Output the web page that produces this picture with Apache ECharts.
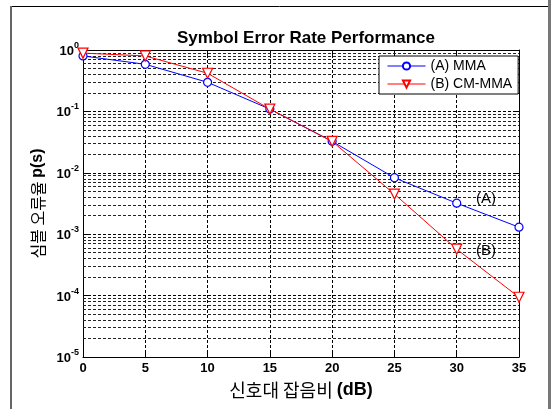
<!DOCTYPE html>
<html><head><meta charset="utf-8">
<script src="https://cdn.jsdelivr.net/npm/echarts@6/dist/echarts.min.js"></script>
<style>html,body{margin:0;padding:0;background:#fff}#c{width:551px;height:409px}</style>
</head><body><div id="c"></div>
<script>
const snr = [0, 5, 10, 15, 20, 25, 30, 35];
const serMMA = [0.80, 0.585, 0.298, 0.109, 0.0325, 0.0083, 0.0032, 0.0013];
const serCMMMA = [0.89, 0.80, 0.418, 0.109, 0.0325, 0.0045, 0.00057, 0.000094];
const seriesNames = ['(A) MMA', '(B) CM-MMA'];
const annotations = ['(A)', '(B)'];
const title = 'Symbol Error Rate Performance';
const decades = [-5, -4, -3, -2, -1];
const minorMultipliers = [2, 3, 4, 5, 6, 7, 8, 9];

// minor grid positions, expressed as log10 values on a hidden linear helper axis
const minorLines = [];
decades.forEach(d => minorMultipliers.forEach(k => minorLines.push({ yAxis: d + Math.log10(k) })));

const FONT = '"Liberation Sans", Arial, sans-serif';
const KFONT = '"Noto Sans CJK KR", "Liberation Sans", sans-serif';
const dash = [3, 2];

const chart = echarts.init(document.getElementById('c'), null, { renderer: 'canvas' });
chart.setOption({
  animation: false,
  backgroundColor: '#fff',
  title: { text: title, left: 172, top: 25, textStyle: { fontFamily: FONT, fontSize: 17, fontWeight: 'bold', color: '#000' } },
  grid: { left: 83, right: 32, top: 50, bottom: 52, show: false },
  legend: {
    orient: 'vertical', left: 379, top: 56, width: 135, z: 20,
    backgroundColor: '#fff', borderColor: '#000', borderWidth: 1,
    padding: [3, 6, 3, 8], itemWidth: 38, itemHeight: 9, itemGap: 4,
    lineStyle: { width: 1 },
    textStyle: { fontFamily: FONT, fontSize: 14, color: '#000' },
    data: seriesNames
  },
  xAxis: [{
    type: 'value', min: 0, max: 35, interval: 5,
    axisLine: { show: true, onZero: false, lineStyle: { color: '#000' } },
    axisTick: { show: true, inside: true, length: 5, lineStyle: { color: '#000' } },
    axisLabel: { fontFamily: FONT, fontSize: 13, fontWeight: 'bold', color: '#000', margin: 5 },
    splitLine: { show: true, lineStyle: { color: '#000', type: dash, width: 1 } },
    name: '{k|신호대 잡음비 }{b|(dB)}', nameLocation: 'middle', nameGap: 24,
    nameTextStyle: { rich: { k: { fontFamily: KFONT, fontSize: 18, color: '#000' }, b: { fontFamily: FONT, fontSize: 18, fontWeight: 'bold', color: '#000' } } }
  }, {
    type: 'value', min: 0, max: 35, interval: 5, position: 'top',
    axisLine: { show: true, onZero: false, lineStyle: { color: '#000' } },
    axisTick: { show: true, inside: true, length: 5, lineStyle: { color: '#000' } },
    axisLabel: { show: false }, splitLine: { show: false }
  }],
  yAxis: [{
    type: 'log', logBase: 10, min: 1e-5, max: 1, splitNumber: 5,
    axisLine: { show: true, onZero: false, lineStyle: { color: '#000' } },
    axisTick: { show: true, inside: true, length: 5, lineStyle: { color: '#000' } },
    axisLabel: {
      margin: 4, color: '#000',
      formatter: v => '{b|10}{s|' + Math.round(Math.log10(v)) + '}',
      rich: { b: { fontFamily: FONT, fontSize: 13, fontWeight: 'bold', color: '#000', padding: [3, 0, 0, 0] }, s: { fontFamily: FONT, fontSize: 9, fontWeight: 'bold', color: '#000', padding: [0, 0, 9, 0] } }
    },
    splitLine: { show: true, lineStyle: { color: '#000', type: dash, width: 1 } },
    name: '{k|심볼 오류율 }{b|p(s)}', nameLocation: 'middle', nameGap: 36, nameRotate: 90,
    nameTextStyle: { rich: { k: { fontFamily: KFONT, fontSize: 16, color: '#000' }, b: { fontFamily: FONT, fontSize: 16, fontWeight: 'bold', color: '#000' } } }
  }, {
    type: 'log', logBase: 10, min: 1e-5, max: 1, splitNumber: 5, position: 'right',
    axisLine: { show: true, onZero: false, lineStyle: { color: '#000' } },
    axisTick: { show: true, inside: true, length: 5, lineStyle: { color: '#000' } },
    axisLabel: { show: false }, splitLine: { show: false }
  }, {
    type: 'value', min: -5, max: 0, show: false, position: 'right', offset: 0,
    splitLine: { show: false }
  }],
  series: [{
    name: 'minor-grid', type: 'line', yAxisIndex: 2,
    data: [[0, -5]], symbol: 'none', lineStyle: { opacity: 0 }, silent: true, z: 1,
    markLine: { silent: true, symbol: 'none', label: { show: false }, animation: false, precision: 6,
      lineStyle: { color: '#222', type: dash, width: 1 }, data: minorLines }
  }, {
    name: seriesNames[0], type: 'line',
    data: snr.map((x, i) => [x, serMMA[i]]),
    symbol: 'circle', symbolSize: 8,
    lineStyle: { color: '#0000ff', width: 1 },
    itemStyle: { color: '#fff', borderColor: '#0000ff', borderWidth: 1.2 },
    z: 5
  }, {
    name: seriesNames[1], type: 'line',
    data: snr.map((x, i) => [x, serCMMMA[i]]),
    symbol: 'triangle', symbolRotate: 180, symbolSize: 10,
    lineStyle: { color: '#ff0000', width: 1 },
    itemStyle: { color: '#fff', borderColor: '#ff0000', borderWidth: 1.2 },
    z: 6
  }],
  graphic: [
    { type: 'line', shape: { x1: 11, y1: 6.5, x2: 548, y2: 6.5 }, style: { stroke: '#000', lineWidth: 1 } },
    { type: 'line', shape: { x1: 11, y1: 6, x2: 11, y2: 409 }, style: { stroke: '#666', lineWidth: 2 } },
    { type: 'line', shape: { x1: 549.5, y1: 0, x2: 549.5, y2: 409 }, style: { stroke: '#777', lineWidth: 3 } },
    { type: 'text', left: 476, top: 191, z: 10, style: { text: annotations[0], fontFamily: FONT, fontSize: 15, fill: '#000' } },
    { type: 'text', left: 476, top: 243, z: 10, style: { text: annotations[1], fontFamily: FONT, fontSize: 15, fill: '#000' } }
  ]
});
</script></body></html>
